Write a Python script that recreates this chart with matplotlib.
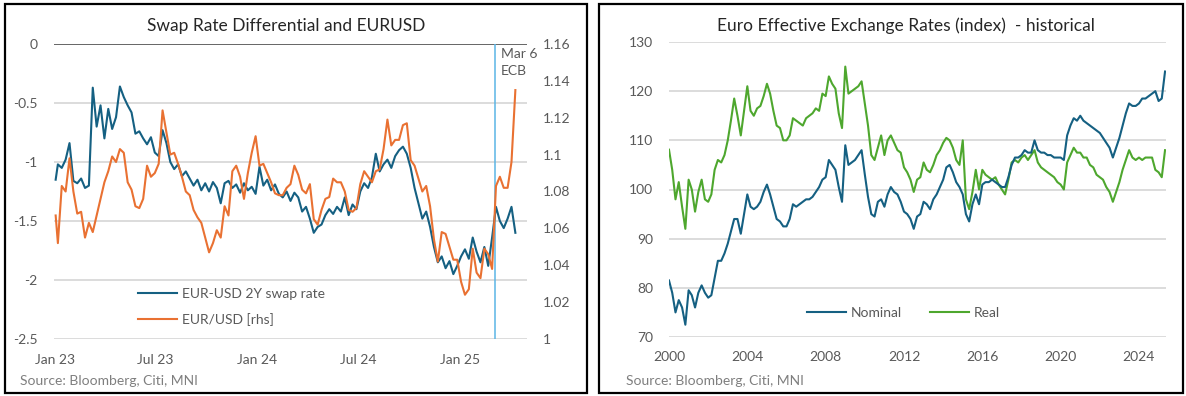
import matplotlib
matplotlib.use('Agg')
import matplotlib.pyplot as plt
import matplotlib.dates as mdates
from matplotlib.patches import Rectangle
import pandas as pd

plt.rcParams['font.family'] = ['Lato', 'DejaVu Sans']

# ---------------- data: left panel (weekly) ----------------
swap_dates = pd.DatetimeIndex(['2023-01-02']).append(
    pd.date_range('2023-01-06', '2025-04-11', freq='W-FRI'))

swap_2023 = [-1.15, -1.02, -1.05, -0.98, -0.84,
             -1.16, -1.18, -1.14, -1.22,
             -1.20, -0.37, -0.70, -0.52, -0.80,
             -0.55, -0.72, -0.62, -0.36,
             -0.45, -0.52, -0.58, -0.76,
             -0.74, -0.80, -0.85, -0.79, -0.92,
             -0.95, -0.73, -0.84, -1.00,
             -1.06, -1.02, -1.12, -1.08,
             -1.14, -1.20, -1.15, -1.24, -1.18,
             -1.25, -1.17, -1.22, -1.35,
             -1.18, -1.16, -1.22, -1.19,
             -1.26, -1.18, -1.24, -1.21, -1.27]
swap_2024 = [-1.04, -1.20, -1.15, -1.24,
             -1.19, -1.27, -1.30, -1.25,
             -1.33, -1.26, -1.30, -1.42, -1.38,
             -1.48, -1.60, -1.55, -1.53,
             -1.45, -1.40, -1.44, -1.38, -1.42,
             -1.30, -1.45, -1.36, -1.40,
             -1.25, -1.18, -1.22, -1.13,
             -0.93, -1.08, -1.02, -0.98, -1.05,
             -0.95, -0.90, -0.87, -0.93,
             -1.05, -1.22, -1.35, -1.48,
             -1.42, -1.55, -1.72, -1.85, -1.80,
             -1.90, -1.84, -1.95, -1.88]
swap_2025 = [-1.80, -1.74, -1.82, -1.64, -1.76,
             -1.85, -1.72, -1.88, -1.64,
             -1.38, -1.50, -1.56, -1.48,
             -1.38, -1.60]
swap_diff = swap_2023 + swap_2024 + swap_2025

eur_2023 = [1.067, 1.052, 1.083, 1.080, 1.098,
            1.080, 1.068, 1.069, 1.055,
            1.063, 1.058, 1.067, 1.076, 1.085,
            1.091, 1.099, 1.096, 1.103,
            1.101, 1.085, 1.081, 1.072,
            1.071, 1.076, 1.094, 1.088, 1.090,
            1.095, 1.124, 1.112, 1.100,
            1.101, 1.095, 1.088, 1.080,
            1.078, 1.070, 1.066, 1.063, 1.055,
            1.047, 1.052, 1.059, 1.055,
            1.072, 1.067, 1.091, 1.094,
            1.088, 1.076, 1.090, 1.101, 1.110]
eur_2024 = [1.094, 1.095, 1.090, 1.085,
            1.079, 1.078, 1.078, 1.082,
            1.084, 1.094, 1.089, 1.081, 1.079,
            1.084, 1.065, 1.062, 1.070,
            1.076, 1.077, 1.087, 1.085, 1.085,
            1.080, 1.070, 1.069, 1.071,
            1.084, 1.091, 1.088, 1.085,
            1.091, 1.092, 1.103, 1.119, 1.105,
            1.108, 1.108, 1.116, 1.117,
            1.097, 1.094, 1.087, 1.080,
            1.083, 1.072, 1.054, 1.042, 1.058,
            1.057, 1.050, 1.043, 1.043]
eur_2025 = [1.031, 1.024, 1.027, 1.049, 1.036,
            1.033, 1.049, 1.046, 1.038,
            1.083, 1.088, 1.082, 1.082,
            1.096, 1.135]
eurusd = eur_2023 + eur_2024 + eur_2025

left_yticks = [0, -0.5, -1, -1.5, -2, -2.5]
left_ylabels = ['0', '-0.5', '-1', '-1.5', '-2', '-2.5']
right_yticks = [1.0, 1.02, 1.04, 1.06, 1.08, 1.10, 1.12, 1.14, 1.16]
right_ylabels = ['1', '1.02', '1.04', '1.06', '1.08', '1.1', '1.12', '1.14', '1.16']
left_xticks = ['2023-01-01', '2023-07-01', '2024-01-01', '2024-07-01', '2025-01-01']
left_xlabels = ['Jan 23', 'Jul 23', 'Jan 24', 'Jul 24', 'Jan 25']
ecb_date = '2025-03-06'

# ---------------- data: right panel (every two months) ----------------
eer_dates = pd.date_range('2000-01-01', '2025-05-01', freq='2MS')

nominal = [81.5, 79, 75, 77.5, 76, 72.5,          # 2000
           79.5, 78.5, 76, 79, 80.5, 79,          # 2001
           78, 78.5, 82, 85.5, 85.5, 87,          # 2002
           89, 91.5, 94, 94, 91, 95,              # 2003
           99, 96.5, 96, 96.5, 97.5, 99.5,        # 2004
           101, 99, 96.5, 94, 93.5, 92.5,         # 2005
           92.5, 94, 97, 96.5, 97, 97.5,          # 2006
           98, 98, 98.5, 99.5, 100.5, 102,        # 2007
           102.5, 106, 105, 104, 100.5, 97.5,     # 2008
           109, 105, 105.5, 106, 107, 108,        # 2009
           103, 98.5, 95, 94.5, 97.5, 98,         # 2010
           96.5, 99, 100.5, 99.5, 99, 97.5,       # 2011
           95.5, 95, 94, 92, 94.5, 95,            # 2012
           97.5, 97, 96, 98, 99, 100.5,           # 2013
           102, 104.5, 105, 103.5, 101.5, 100.5,  # 2014
           99, 95, 93.5, 97, 99, 97,              # 2015
           101, 101.5, 101.5, 102, 101.5, 101,    # 2016
           100.5, 100.5, 102.5, 105, 106.5, 106.5,  # 2017
           107, 108, 107.5, 107.5, 110, 108,      # 2018
           107.5, 107.5, 107, 107, 106.5, 106.5,  # 2019
           106.5, 106, 111, 113, 114.5, 114,      # 2020
           115, 114, 113.5, 113, 112.5, 112,      # 2021
           111.5, 110.5, 109.5, 108.5, 106.5, 108.5,  # 2022
           110.5, 113, 115.5, 117.5, 117, 117,    # 2023
           117.5, 118.5, 118.5, 119, 119.5, 120,  # 2024
           118, 118.5, 124]                       # 2025

real = [108.1, 104, 98, 101.5, 96.5, 92,          # 2000
        102, 100, 95.5, 99.5, 102, 98,            # 2001
        97.5, 99, 104, 106, 105.5, 107,           # 2002
        110, 114, 118.5, 115, 111, 116,           # 2003
        121, 116, 115, 116.5, 117, 119,           # 2004
        121.5, 119.5, 116, 113, 112.5, 110,       # 2005
        110, 111, 114.5, 114, 113.5, 113,         # 2006
        114.5, 115, 115.5, 116.5, 116, 119.5,     # 2007
        119, 123, 121.5, 120.5, 115.5, 112.5,     # 2008
        125, 119.5, 120, 120.5, 121, 122,         # 2009
        117.5, 113, 107, 106, 108.5, 111,         # 2010
        107, 110, 111, 109.5, 108, 107.5,         # 2011
        104.5, 103.5, 102, 99.5, 102, 102.5,      # 2012
        105.5, 104, 103.5, 105, 107, 108,         # 2013
        109.5, 110.5, 110, 108.5, 106, 105,       # 2014
        110, 98, 96, 99.5, 104, 100,              # 2015
        104, 103, 102.5, 102, 102.5, 101,         # 2016
        100, 99, 102, 105.5, 106, 105.5,          # 2017
        106.5, 107, 106, 107, 108, 105.5,         # 2018
        104.5, 104, 103.5, 103, 102.5, 101.5,     # 2019
        101, 100, 105.5, 107, 108.5, 107.5,       # 2020
        107.5, 106.5, 106.5, 105, 104.5, 103,     # 2021
        102.5, 102, 100.5, 99.5, 97.5, 99.5,      # 2022
        101.5, 104, 106, 108, 106.5, 106,         # 2023
        106.5, 106, 106.5, 106.5, 106.5, 104,     # 2024
        103.5, 102.5, 108]                        # 2025

right_yticks_eer = [70, 80, 90, 100, 110, 120, 130]
eer_xtick_years = [2000, 2004, 2008, 2012, 2016, 2020, 2024]

# ---------------- style ----------------
BLUE = '#156082'
ORANGE = '#E97132'
GREEN = '#4EA72E'
VLINE = '#5BB5E5'
GRID = '#D9D9D9'
TXT = '#595959'
SRC = '#7F7F7F'
TITLE = '#262626'

W, H = 1186, 396
fig = plt.figure(figsize=(W / 100, H / 100), dpi=100)


def fx(px):
    return px / W


def fy(py):
    return 1 - py / H


def rect(x0, y0, x1, y1):
    return [fx(x0), fy(y1), fx(x1) - fx(x0), fy(y0) - fy(y1)]


# panel frames
for (x0, x1) in [(5, 587), (599, 1183)]:
    fig.patches.append(Rectangle((fx(x0), fy(393)), fx(x1) - fx(x0), fy(4) - fy(393),
                                 transform=fig.transFigure, fill=False,
                                 edgecolor='black', linewidth=1.6, zorder=0))

# ---------------- left panel ----------------
ax1 = fig.add_axes(rect(54, 44, 527, 339))
ax2 = ax1.twinx()

ax1.set_ylim(-2.5, 0)
ax2.set_ylim(1.0, 1.16)
ax1.set_xlim(pd.Timestamp('2022-12-30'), pd.Timestamp('2025-05-02'))

for v in left_yticks[1:]:
    ax1.axhline(v, color=GRID, lw=1.3, zorder=0)
ax1.axhline(0, color='#595959', lw=1.3, zorder=1)

ax1.axvline(pd.Timestamp(ecb_date), color=VLINE, lw=1.1, zorder=2)

l1, = ax1.plot(swap_dates, swap_diff, color=BLUE, lw=1.5, zorder=3)
l2, = ax2.plot(swap_dates, eurusd, color=ORANGE, lw=1.5, zorder=3)

ax1.set_yticks(left_yticks)
ax1.set_yticklabels(left_ylabels)
ax2.set_yticks(right_yticks)
ax2.set_yticklabels(right_ylabels)
ax1.set_xticks([pd.Timestamp(d) for d in left_xticks])
ax1.set_xticklabels(left_xlabels)

for a in (ax1, ax2):
    for s in a.spines.values():
        s.set_visible(False)
ax1.tick_params(axis='y', length=0, pad=12, labelsize=10, labelcolor=TXT)
ax1.tick_params(axis='x', length=0, pad=11, labelsize=10, labelcolor=TXT)
ax2.tick_params(axis='y', length=0, pad=11.5, labelsize=10, labelcolor=TXT)

fig.text(fx(286), fy(26), 'Swap Rate Differential and EURUSD', ha='center', va='center',
         fontsize=12.5, color=TITLE)
fig.text(fx(501), fy(48), 'Mar 6\nECB', ha='left', va='top', fontsize=10,
         color=TXT, linespacing=1.5)
fig.text(fx(20), fy(381), 'Source: Bloomberg, Citi, MNI', ha='left', va='center',
         fontsize=10, color=SRC)

fig.legend([l1, l2], ['EUR-USD 2Y swap rate', 'EUR/USD [rhs]'],
           loc='upper left', bbox_to_anchor=(fx(138), fy(288)),
           frameon=False, fontsize=10, handlelength=2.8, handletextpad=0.35,
           labelspacing=0.95, borderpad=0, borderaxespad=0, labelcolor=TXT)

# ---------------- right panel ----------------
ax3 = fig.add_axes(rect(669, 42, 1166, 337))
ax3.set_ylim(70, 130)
ax3.set_xlim(pd.Timestamp('2000-01-01'), pd.Timestamp('2025-05-19'))
for v in right_yticks_eer:
    ax3.axhline(v, color=GRID, lw=1.3, zorder=0)

l3, = ax3.plot(eer_dates, nominal, color=BLUE, lw=1.5, zorder=3)
l4, = ax3.plot(eer_dates, real, color=GREEN, lw=1.5, zorder=2)

ax3.set_yticks(right_yticks_eer)
ax3.set_yticklabels([str(v) for v in right_yticks_eer])
ax3.set_xticks([pd.Timestamp(f'{y}-01-01') for y in eer_xtick_years])
ax3.set_xticklabels([str(y) for y in eer_xtick_years])
for s in ax3.spines.values():
    s.set_visible(False)
ax3.tick_params(axis='y', length=0, pad=11.5, labelsize=10, labelcolor=TXT)
ax3.tick_params(axis='x', length=0, pad=10, labelsize=10, labelcolor=TXT)

fig.text(fx(906), fy(26), 'Euro Effective Exchange Rates (index)  - historical',
         ha='center', va='center', fontsize=12.5, color=TITLE)
fig.text(fx(626), fy(381), 'Source: Bloomberg, Citi, MNI', ha='left', va='center',
         fontsize=10, color=SRC)

fig.legend([l3, l4], ['Nominal', 'Real'], loc='upper left',
           bbox_to_anchor=(fx(807), fy(307)), ncol=2, frameon=False,
           fontsize=10, handlelength=2.8, handletextpad=0.35,
           columnspacing=2.0, borderpad=0, borderaxespad=0, labelcolor=TXT)

fig.savefig('out.png', dpi=100)
